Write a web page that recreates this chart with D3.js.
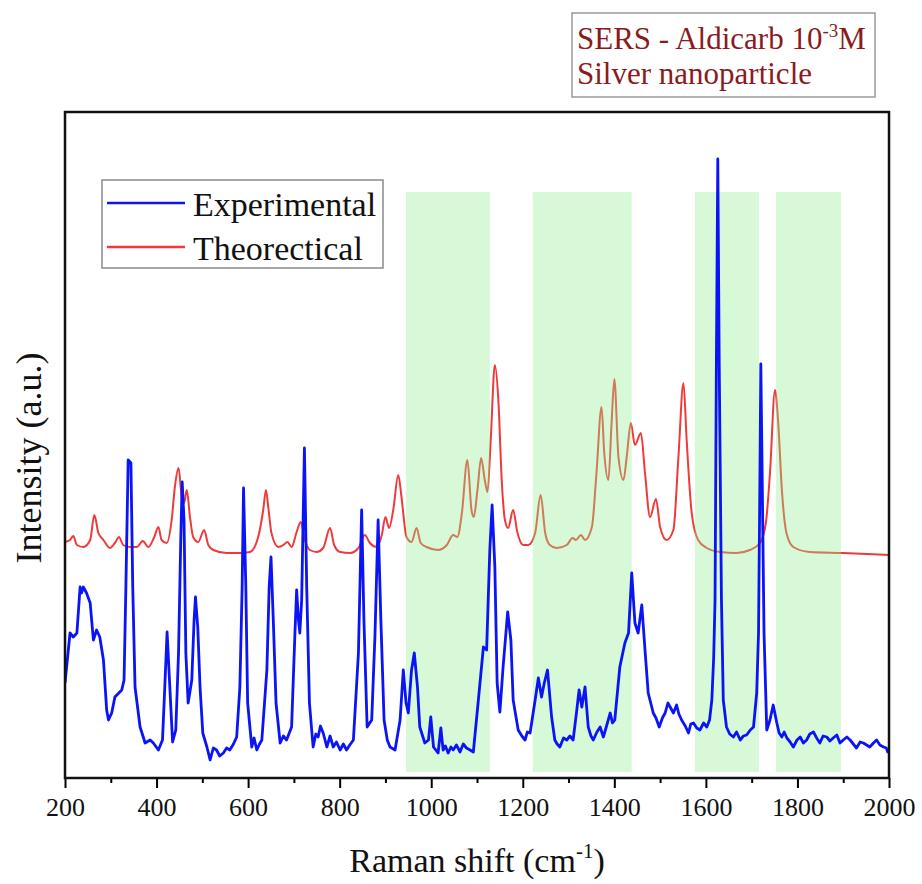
<!DOCTYPE html>
<html>
<head>
<meta charset="utf-8">
<script src="https://cdn.jsdelivr.net/npm/d3@7"></script>
<style>
  body { margin: 0; background: #fff; }
  text { font-family: "Liberation Serif", "Times New Roman", serif; }
</style>
</head>
<body>
<div id="chart"></div>
<script>
// axis ticks (Raman shift, cm-1)
const xTicks = [200, 400, 600, 800, 1000, 1200, 1400, 1600, 1800, 2000];
const xMinorTicks = [300, 500, 700, 900, 1100, 1300, 1500, 1700, 1900];

const seriesNames = ['Experimental', 'Theorectical'];
const annotationLines = ['SERS - Aldicarb 10', 'Silver nanoparticle'];

// shaded regions [from, to] in cm-1, height in a.u.
const highlightBands = [[945, 1128], [1222, 1438], [1576, 1716], [1753, 1895]];
const bandTop = 586;
const bandBottom = 6;

// experimental SERS spectrum [shift, intensity a.u.]
const experimental = [
  [200, 95], [211, 145], [218, 141], [226, 145], [233, 191], [236, 185], [240, 191], [247, 185],
  [255, 175], [262, 138], [269, 148], [276, 141], [284, 118], [291, 68], [295, 58], [302, 65],
  [309, 81], [324, 88], [329, 98], [333, 191], [338, 318], [344, 315], [348, 191], [353, 91],
  [364, 51], [375, 35], [386, 38], [393, 35], [404, 28], [413, 38], [418, 91], [423, 146],
  [429, 91], [435, 36], [442, 48], [448, 125], [453, 241], [456, 296], [460, 258], [464, 125],
  [469, 75], [477, 98], [482, 158], [485, 181], [490, 151], [495, 91], [501, 45], [510, 31],
  [517, 18], [524, 30], [531, 28], [538, 22], [546, 25], [553, 30], [560, 28], [568, 34],
  [575, 41], [582, 91], [587, 191], [590, 290], [595, 191], [599, 75], [608, 31], [613, 40],
  [619, 28], [625, 34], [630, 38], [641, 108], [646, 191], [650, 221], [655, 158], [661, 75],
  [670, 35], [677, 42], [684, 38], [695, 51], [702, 141], [706, 188], [710, 158], [713, 145],
  [717, 178], [723, 330], [728, 191], [734, 75], [742, 31], [748, 44], [753, 41], [758, 52],
  [764, 45], [772, 31], [779, 42], [786, 31], [793, 36], [801, 28], [808, 34], [815, 28],
  [822, 33], [830, 38], [841, 125], [848, 268], [853, 158], [860, 51], [870, 58], [877, 141],
  [884, 258], [890, 158], [897, 58], [904, 38], [910, 31], [921, 28], [932, 58], [939, 108],
  [945, 75], [950, 65], [957, 108], [963, 125], [970, 91], [975, 51], [986, 35], [994, 38],
  [999, 61], [1005, 31], [1010, 28], [1015, 25], [1021, 50], [1026, 28], [1031, 32], [1037, 25],
  [1043, 31], [1048, 28], [1055, 33], [1063, 26], [1070, 34], [1077, 30], [1085, 28], [1092, 26],
  [1103, 78], [1114, 131], [1121, 128], [1128, 228], [1133, 273], [1139, 211], [1144, 95], [1150, 66],
  [1157, 111], [1167, 166], [1174, 138], [1179, 78], [1190, 48], [1198, 42], [1205, 38], [1210, 46],
  [1216, 45], [1227, 78], [1234, 100], [1241, 81], [1247, 95], [1254, 108], [1263, 61], [1270, 38],
  [1275, 34], [1281, 31], [1289, 40], [1296, 38], [1303, 42], [1310, 38], [1318, 68], [1323, 88],
  [1329, 71], [1336, 91], [1343, 51], [1349, 42], [1354, 38], [1362, 46], [1369, 51], [1376, 41],
  [1383, 52], [1391, 65], [1396, 55], [1401, 58], [1412, 111], [1423, 135], [1431, 145], [1438, 205],
  [1445, 155], [1452, 145], [1460, 173], [1467, 128], [1474, 85], [1485, 65], [1491, 60], [1498, 51],
  [1505, 60], [1511, 65], [1517, 75], [1522, 71], [1529, 65], [1536, 73], [1541, 64], [1547, 58],
  [1555, 52], [1562, 45], [1567, 54], [1573, 55], [1580, 50], [1587, 48], [1595, 55], [1602, 51],
  [1608, 58], [1613, 78], [1617, 120], [1620, 178], [1623, 420], [1626, 619], [1629, 420], [1634, 178],
  [1638, 78], [1645, 51], [1652, 44], [1660, 41], [1667, 46], [1675, 38], [1682, 42], [1689, 43],
  [1697, 48], [1704, 51], [1711, 85], [1715, 145], [1718, 300], [1720, 414], [1723, 300], [1727, 145],
  [1733, 48], [1740, 58], [1747, 73], [1755, 55], [1760, 45], [1766, 41], [1771, 46], [1777, 40],
  [1784, 36], [1791, 31], [1799, 38], [1806, 41], [1813, 35], [1820, 38], [1827, 44], [1835, 46],
  [1842, 40], [1849, 35], [1856, 42], [1864, 41], [1871, 37], [1878, 40], [1886, 43], [1893, 35],
  [1900, 38], [1908, 41], [1915, 38], [1922, 34], [1929, 30], [1937, 36], [1944, 35], [1951, 33],
  [1958, 31], [1966, 35], [1973, 38], [1980, 33], [1988, 31], [1994, 30], [1998, 25]
];

// DFT theoretical spectrum [shift, intensity a.u.]
const theoretical = [
  [200, 236], [211, 238], [218, 242], [226, 233], [240, 231], [255, 238], [264, 263], [273, 245],
  [284, 238], [298, 230], [309, 235], [318, 241], [327, 233], [342, 231], [357, 231], [370, 237],
  [382, 231], [395, 241], [404, 251], [411, 238], [422, 235], [433, 258], [440, 291], [448, 310],
  [455, 281], [460, 275], [466, 288], [473, 261], [480, 241], [491, 236], [504, 248], [513, 233],
  [524, 228], [553, 225], [582, 225], [604, 226], [622, 241], [633, 268], [639, 288], [644, 271],
  [651, 245], [666, 231], [677, 233], [686, 236], [695, 231], [706, 246], [715, 256], [724, 238],
  [735, 228], [750, 226], [764, 230], [779, 250], [788, 233], [801, 226], [823, 225], [841, 230],
  [855, 243], [866, 235], [881, 231], [892, 243], [900, 261], [908, 250], [917, 268], [928, 303],
  [935, 281], [946, 241], [957, 236], [968, 250], [977, 235], [990, 231], [1015, 228], [1034, 233],
  [1048, 243], [1057, 241], [1067, 265], [1079, 318], [1088, 268], [1093, 261], [1101, 288],
  [1109, 320], [1117, 298], [1123, 286], [1130, 338], [1139, 413], [1147, 375], [1154, 298],
  [1161, 258], [1168, 250], [1179, 268], [1188, 246], [1201, 233], [1212, 233], [1227, 245],
  [1239, 283], [1249, 245], [1259, 233], [1274, 230], [1296, 233], [1309, 240], [1316, 238],
  [1327, 243], [1336, 238], [1351, 251], [1361, 305], [1372, 371], [1378, 325], [1387, 298],
  [1394, 355], [1400, 399], [1409, 321], [1420, 298], [1427, 321], [1436, 355], [1445, 333],
  [1458, 345], [1467, 305], [1478, 261], [1491, 279], [1500, 251], [1514, 238], [1529, 248],
  [1540, 321], [1551, 395], [1558, 338], [1569, 265], [1583, 238], [1602, 230], [1631, 226],
  [1667, 225], [1696, 228], [1718, 235], [1731, 255], [1740, 305], [1751, 388], [1758, 355],
  [1766, 288], [1776, 245], [1791, 231], [1827, 226], [1900, 225], [2000, 223]
];

const width = 922;
const height = 884;
const plot = { left: 65, right: 889, top: 112, bottom: 778 };

const svg = d3.select('#chart').append('svg')
  .attr('width', width)
  .attr('height', height);

const x = d3.scaleLinear().domain([200, 2000]).range([plot.left, plot.right]);
const y = d3.scaleLinear().domain([0, 666]).range([plot.bottom, plot.top]);

svg.append('clipPath').attr('id', 'plot-clip')
  .append('rect')
  .attr('x', plot.left).attr('y', plot.top)
  .attr('width', plot.right - plot.left).attr('height', plot.bottom - plot.top);

const area = svg.append('g').attr('clip-path', 'url(#plot-clip)');

const line = d3.line().x(d => x(d[0])).y(d => y(d[1]));

// theoretical goes under the shading
area.append('path')
  .datum(theoretical)
  .attr('fill', 'none')
  .attr('stroke', '#f03a3a')
  .attr('stroke-width', 2)
  .attr('stroke-linejoin', 'round')
  .attr('d', line.curve(d3.curveMonotoneX));

area.selectAll('.band')
  .data(highlightBands)
  .enter().append('rect')
  .attr('class', 'band')
  .attr('x', d => x(d[0]))
  .attr('width', d => x(d[1]) - x(d[0]))
  .attr('y', y(bandTop))
  .attr('height', y(bandBottom) - y(bandTop))
  .attr('fill', 'rgb(144,238,144)')
  .attr('fill-opacity', 0.36);

area.append('path')
  .datum(experimental)
  .attr('fill', 'none')
  .attr('stroke', '#0a14f5')
  .attr('stroke-width', 2.8)
  .attr('stroke-linejoin', 'round')
  .attr('d', line.curve(d3.curveLinear));

// bottom axis, major + minor ticks
const xAxis = svg.append('g')
  .attr('transform', 'translate(0,' + plot.bottom + ')')
  .call(d3.axisBottom(x).tickValues(xTicks).tickSize(10).tickPadding(10).tickFormat(d3.format('d')));
xAxis.select('.domain').remove();
xAxis.selectAll('line').attr('stroke', '#000').attr('stroke-width', 2);
xAxis.selectAll('text').attr('font-size', 26).attr('fill', '#111')
  .style('font-family', '"Liberation Serif", serif');

const xMinor = svg.append('g')
  .attr('transform', 'translate(0,' + plot.bottom + ')')
  .call(d3.axisBottom(x).tickValues(xMinorTicks).tickSize(5).tickFormat(''));
xMinor.select('.domain').remove();
xMinor.selectAll('line').attr('stroke', '#000').attr('stroke-width', 2);

// frame
svg.append('rect')
  .attr('x', plot.left).attr('y', plot.top)
  .attr('width', plot.right - plot.left).attr('height', plot.bottom - plot.top)
  .attr('fill', 'none')
  .attr('stroke', '#111')
  .attr('stroke-width', 2.5);

// axis titles
const xTitle = svg.append('text')
  .attr('x', 477).attr('y', 872)
  .attr('text-anchor', 'middle')
  .attr('font-size', 34)
  .attr('fill', '#111');
xTitle.append('tspan').text('Raman shift (cm');
xTitle.append('tspan').attr('dy', -14).attr('font-size', 21).text('-1');
xTitle.append('tspan').attr('dy', 14).text(')');

svg.append('text')
  .attr('transform', 'translate(41,458) rotate(-90)')
  .attr('text-anchor', 'middle')
  .attr('font-size', 36)
  .attr('fill', '#111')
  .text('Intensity (a.u.)');

// legend
const legend = svg.append('g');
legend.append('rect')
  .attr('x', 102).attr('y', 180).attr('width', 281).attr('height', 88)
  .attr('fill', '#fff').attr('stroke', '#8a8a8a').attr('stroke-width', 1.5);
const legendColors = ['#0a14f5', '#f03a3a'];
seriesNames.forEach((name, i) => {
  const ly = 203 + i * 44;
  legend.append('line')
    .attr('x1', 107).attr('x2', 185).attr('y1', ly).attr('y2', ly)
    .attr('stroke', legendColors[i]).attr('stroke-width', 2.5);
  legend.append('text')
    .attr('x', 193).attr('y', ly + 13)
    .attr('font-size', 34).attr('fill', '#111')
    .text(name);
});

// annotation box
const note = svg.append('g');
note.append('rect')
  .attr('x', 572).attr('y', 13).attr('width', 303).attr('height', 84)
  .attr('fill', '#fff').attr('stroke', '#9a9a9a').attr('stroke-width', 1.5);
const noteLine1 = note.append('text')
  .attr('x', 577).attr('y', 49)
  .attr('font-size', 31).attr('fill', '#8b1a1e');
noteLine1.append('tspan').text(annotationLines[0]);
noteLine1.append('tspan').attr('dy', -12).attr('font-size', 19).text('-3');
noteLine1.append('tspan').attr('dy', 12).text('M');
note.append('text')
  .attr('x', 577).attr('y', 84)
  .attr('font-size', 31).attr('fill', '#8b1a1e')
  .text(annotationLines[1]);
</script>
</body>
</html>
